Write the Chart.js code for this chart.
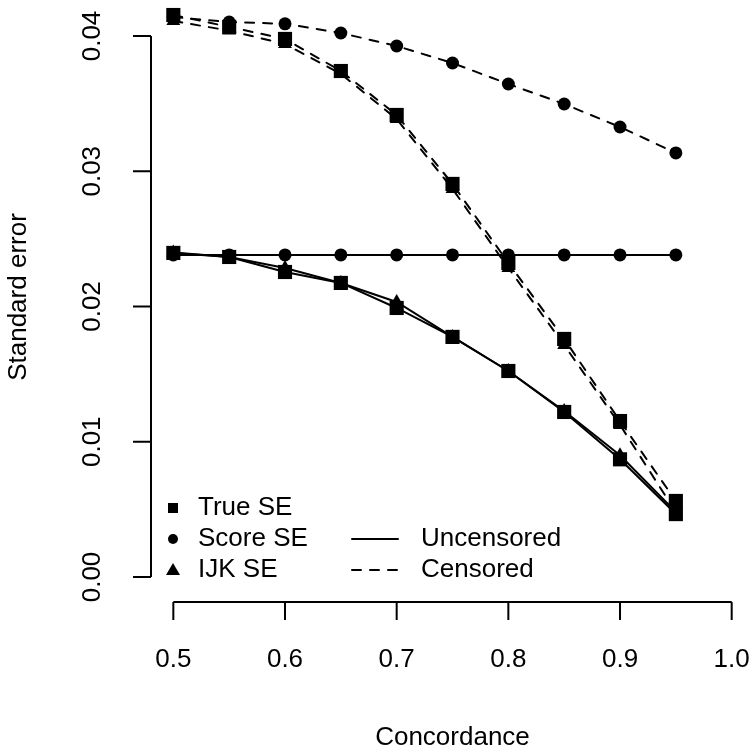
<!DOCTYPE html>
<html>
<head>
<meta charset="utf-8">
<script src="https://cdn.jsdelivr.net/npm/chart.js@4"></script>
<style>
  html, body { margin: 0; padding: 0; background: #fff; }
  canvas { display: block; }
</style>
</head>
<body>
<canvas id="seChart" width="751" height="748"></canvas>
<script>
const concordance = [0.5, 0.55, 0.6, 0.65, 0.7, 0.75, 0.8, 0.85, 0.9, 0.95];

// uncensored
const trueSeUnc = [0.02396, 0.02366, 0.02255, 0.02174, 0.01989, 0.01775, 0.01523, 0.0122, 0.0087, 0.00465];
const scoreSeUnc = [0.02381, 0.02381, 0.02381, 0.02381, 0.02381, 0.02381, 0.02381, 0.02381, 0.02381, 0.02381];
const ijkSeUnc = [0.024, 0.02366, 0.02285, 0.02174, 0.02033, 0.01775, 0.01523, 0.01227, 0.009, 0.0048];

// censored
const trueSeCens = [0.04155, 0.04067, 0.03978, 0.03741, 0.03416, 0.02906, 0.02322, 0.0176, 0.01153, 0.00562];
const scoreSeCens = [0.0414, 0.04103, 0.0409, 0.04022, 0.03926, 0.038, 0.03645, 0.03497, 0.03327, 0.03135];
const ijkSeCens = [0.0411, 0.0404, 0.0394, 0.0372, 0.03386, 0.02869, 0.02285, 0.01715, 0.01124, 0.0048];

const xTicks = [0.5, 0.6, 0.7, 0.8, 0.9, 1.0];
const xTickLabels = ["0.5", "0.6", "0.7", "0.8", "0.9", "1.0"];
const yTicks = [0, 0.01, 0.02, 0.03, 0.04];
const yTickLabels = ["0.00", "0.01", "0.02", "0.03", "0.04"];

const FONT = '26px "Liberation Sans", Arial, Helvetica, sans-serif';
const DASH = [9, 9];

function pts(ys) {
  return concordance.map((c, i) => ({ x: c, y: ys[i] }));
}

function series(label, ys, style, radius, dashed) {
  return {
    label: label,
    data: pts(ys),
    borderColor: "#000",
    borderWidth: 2,
    borderDash: dashed ? DASH : [],
    borderCapStyle: "round",
    pointStyle: style,
    pointRadius: radius,
    pointHoverRadius: radius,
    pointBackgroundColor: "#000",
    pointBorderColor: "#000",
    pointBorderWidth: 0,
    tension: 0,
    fill: false,
  };
}

// R-style axes, titles and legend
const baseAxes = {
  id: "baseAxes",
  afterDraw(chart) {
    const ctx = chart.ctx;
    const xs = chart.scales.x;
    const ys = chart.scales.y;
    const area = chart.chartArea;
    const tick = 18;

    ctx.save();
    ctx.strokeStyle = "#000";
    ctx.fillStyle = "#000";
    ctx.lineWidth = 2;
    ctx.font = FONT;

    // x axis
    const xa = area.bottom;
    ctx.beginPath();
    ctx.moveTo(xs.getPixelForValue(xTicks[0]), xa);
    ctx.lineTo(xs.getPixelForValue(xTicks[xTicks.length - 1]), xa);
    xTicks.forEach((v) => {
      const px = xs.getPixelForValue(v);
      ctx.moveTo(px, xa);
      ctx.lineTo(px, xa + tick);
    });
    ctx.stroke();
    ctx.textAlign = "center";
    ctx.textBaseline = "middle";
    xTicks.forEach((v, i) => {
      ctx.fillText(xTickLabels[i], xs.getPixelForValue(v), xa + 58);
    });
    ctx.fillText("Concordance", (area.left + 754) / 2, xa + 136);

    // y axis
    const ya = area.left;
    ctx.beginPath();
    ctx.moveTo(ya, ys.getPixelForValue(yTicks[0]));
    ctx.lineTo(ya, ys.getPixelForValue(yTicks[yTicks.length - 1]));
    yTicks.forEach((v) => {
      const py = ys.getPixelForValue(v);
      ctx.moveTo(ya, py);
      ctx.lineTo(ya - tick, py);
    });
    ctx.stroke();
    yTicks.forEach((v, i) => {
      ctx.save();
      ctx.translate(ya - 58, ys.getPixelForValue(v));
      ctx.rotate(-Math.PI / 2);
      ctx.fillText(yTickLabels[i], 0, 0);
      ctx.restore();
    });
    ctx.save();
    ctx.translate(ya - 132, 297);
    ctx.rotate(-Math.PI / 2);
    ctx.fillText("Standard error", 0, 0);
    ctx.restore();

    // legend
    const rows = [508, 539, 570];
    const symX = 173;
    ctx.textAlign = "left";
    ctx.fillRect(symX - 5, rows[0] - 5, 10, 10);
    ctx.beginPath();
    ctx.arc(symX, rows[1], 5, 0, Math.PI * 2);
    ctx.fill();
    ctx.beginPath();
    ctx.moveTo(symX, rows[2] - 7);
    ctx.lineTo(symX + 7, rows[2] + 5);
    ctx.lineTo(symX - 7, rows[2] + 5);
    ctx.closePath();
    ctx.fill();
    ctx.fillText("True SE", 198, rows[0]);
    ctx.fillText("Score SE", 198, rows[1]);
    ctx.fillText("IJK SE", 198, rows[2]);

    ctx.lineCap = "round";
    ctx.beginPath();
    ctx.moveTo(352, rows[1]);
    ctx.lineTo(398, rows[1]);
    ctx.stroke();
    ctx.setLineDash(DASH);
    ctx.beginPath();
    ctx.moveTo(352, rows[2]);
    ctx.lineTo(398, rows[2]);
    ctx.stroke();
    ctx.setLineDash([]);
    ctx.fillText("Uncensored", 421, rows[1]);
    ctx.fillText("Censored", 421, rows[2]);
    ctx.restore();
  },
};

new Chart(document.getElementById("seChart"), {
  type: "line",
  data: {
    datasets: [
      series("True SE (uncensored)", trueSeUnc, "rect", 10, false),
      series("Score SE (uncensored)", scoreSeUnc, "circle", 6.5, false),
      series("IJK SE (uncensored)", ijkSeUnc, "triangle", 8, false),
      series("True SE (censored)", trueSeCens, "rect", 10, true),
      series("Score SE (censored)", scoreSeCens, "circle", 6.5, true),
      series("IJK SE (censored)", ijkSeCens, "triangle", 8, true),
    ],
  },
  options: {
    responsive: false,
    animation: false,
    devicePixelRatio: 1,
    layout: { autoPadding: false, padding: { left: 151, right: 1, top: 0, bottom: 146 } },
    plugins: { legend: { display: false }, tooltip: { enabled: false } },
    scales: {
      x: { type: "linear", min: 0.48, max: 1.0164, display: false },
      y: { type: "linear", min: -0.00185, max: 0.04266, display: false },
    },
  },
  plugins: [baseAxes],
});
</script>
</body>
</html>
